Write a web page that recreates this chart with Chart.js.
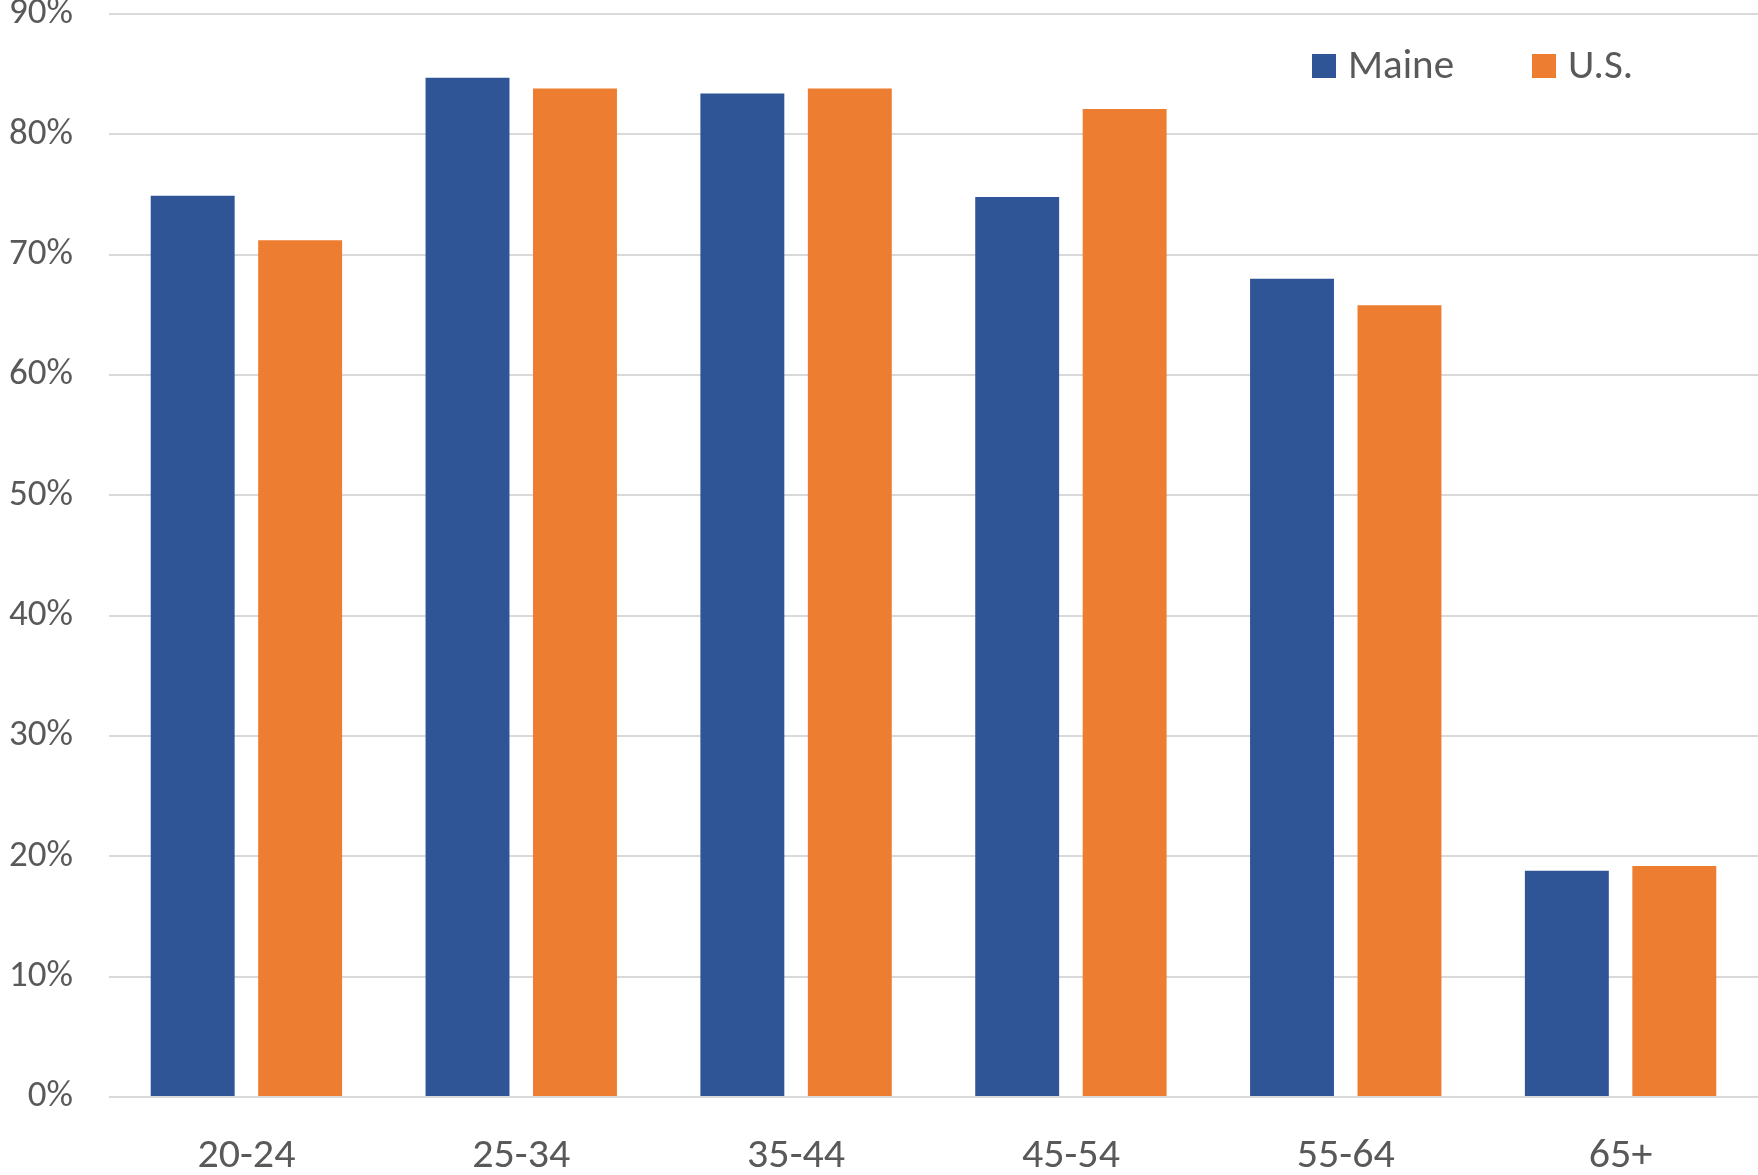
<!DOCTYPE html>
<html>
<head>
<meta charset="utf-8">
<script src="https://cdn.jsdelivr.net/npm/chart.js@4/dist/chart.umd.min.js"></script>
<style>
  html, body { margin: 0; padding: 0; background: #fff; }
  #wrap { width: 1758px; height: 1175px; }
</style>
</head>
<body>
<div id="wrap"><canvas id="myChart" width="1758" height="1175"></canvas></div>
<script>
const ageGroups = ['20-24', '25-34', '35-44', '45-54', '55-64', '65+'];
const maineRates = [74.9, 84.7, 83.4, 74.8, 68.0, 18.8];
const usRates = [71.2, 83.8, 83.8, 82.1, 65.8, 19.2];
const yTicks = [0, 10, 20, 30, 40, 50, 60, 70, 80, 90];

const FONT = 'Carlito, Lato, sans-serif';
const TEXT = '#595959';

// legend drawn inside the plot area, top right
const legendInPlot = {
    id: 'legendInPlot',
    afterDraw(chart) {
        const ctx = chart.ctx;
        const items = [
            { x: 1312, ds: chart.data.datasets[0] },
            { x: 1532, ds: chart.data.datasets[1] }
        ];
        ctx.save();
        ctx.font = '41px ' + FONT;
        ctx.textBaseline = 'middle';
        items.forEach(function (it) {
            ctx.fillStyle = it.ds.backgroundColor;
            ctx.fillRect(it.x, 54, 24, 24);
            ctx.fillStyle = TEXT;
            ctx.fillText(it.ds.label, it.x + 36, 68);
        });
        ctx.restore();
    }
};

var ctx = document.getElementById('myChart').getContext('2d');
var myChart = new Chart(ctx, {
    type: 'bar',
    data: {
        labels: ageGroups,
        datasets: [{
            label: 'Maine',
            data: maineRates,
            backgroundColor: '#2F5597',
            categoryPercentage: 0.782,
            barPercentage: 0.781
        }, {
            label: 'U.S.',
            data: usRates,
            backgroundColor: '#ED7D31',
            categoryPercentage: 0.782,
            barPercentage: 0.781
        }]
    },
    options: {
        responsive: false,
        animation: false,
        layout: { padding: { top: 14, right: 0, left: 0, bottom: 0 } },
        plugins: {
            legend: { display: false },
            tooltip: { enabled: false }
        },
        scales: {
            x: {
                grid: { display: false },
                border: { display: false },
                ticks: {
                    color: TEXT,
                    font: { family: FONT, size: 42 },
                    padding: 26,
                    maxRotation: 0
                },
                afterFit: function (s) { s.height = 78; }
            },
            y: {
                min: 0,
                max: 90,
                afterBuildTicks: function (s) {
                    s.ticks = yTicks.map(function (v) { return { value: v }; });
                },
                grid: { color: '#D9D9D9', lineWidth: 2, drawTicks: true, tickLength: 36, tickColor: 'rgba(0,0,0,0)' },
                border: { display: false },
                ticks: {
                    color: TEXT,
                    font: { family: FONT, size: 37, lineHeight: 0.75 },
                    padding: 0,
                    callback: function (v) { return v + '%'; }
                },
                afterFit: function (s) { s.width = 109; }
            }
        }
    },
    plugins: [legendInPlot]
});
</script>
</body>
</html>
